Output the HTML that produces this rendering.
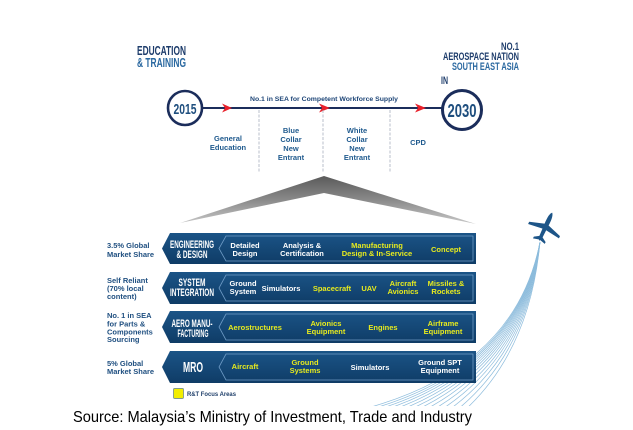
<!DOCTYPE html>
<html><head><meta charset="utf-8"><style>
html,body{margin:0;padding:0;background:#fff;}
svg{display:block;}
.b{font-family:"Liberation Sans",sans-serif;font-weight:bold;}
.c{font-family:"Liberation Sans Narrow","Liberation Sans",sans-serif;font-weight:bold;}
</style></head><body>
<svg width="633" height="430" viewBox="0 0 633 430" xmlns="http://www.w3.org/2000/svg">
<defs>
<linearGradient id="band" x1="0" y1="0" x2="0" y2="1">
<stop offset="0" stop-color="#1b5487"/><stop offset="1" stop-color="#0f3c66"/>
</linearGradient>
<linearGradient id="fun" x1="0" y1="176" x2="0" y2="224" gradientUnits="userSpaceOnUse">
<stop offset="0" stop-color="#5a5a5a"/><stop offset="0.5" stop-color="#8a8a8a"/><stop offset="1" stop-color="#c8c8c8"/>
</linearGradient>
<clipPath id="tc"><rect x="300" y="235" width="300" height="171"/></clipPath>
</defs>

<!-- Titles -->
<text class="c" x="137" y="55" font-size="13" fill="#1d3c6b" textLength="49" lengthAdjust="spacingAndGlyphs">EDUCATION</text>
<text class="c" x="137" y="67" font-size="13" fill="#2a68a0" textLength="49" lengthAdjust="spacingAndGlyphs">&amp; TRAINING</text>

<text class="c" x="519" y="50" font-size="11" fill="#1d3c6b" text-anchor="end" textLength="18" lengthAdjust="spacingAndGlyphs">NO.1</text>
<text class="c" x="519" y="60" font-size="11" fill="#1d3c6b" text-anchor="end" textLength="76" lengthAdjust="spacingAndGlyphs">AEROSPACE NATION</text>
<text class="c" x="519" y="70" font-size="11" fill="#2a68a0" text-anchor="end" textLength="67" lengthAdjust="spacingAndGlyphs">SOUTH EAST ASIA</text>
<text class="c" x="441" y="84" font-size="11" fill="#1d3c6b" textLength="7" lengthAdjust="spacingAndGlyphs">IN</text>

<!-- Timeline -->
<line x1="202" y1="108" x2="442" y2="108" stroke="#1b2d5b" stroke-width="2"/>
<g fill="#e8202a">
<polygon points="222,103.5 232,108 222,112.5 225,108"/>
<polygon points="319,103.5 330,108 319,112.5 322,108"/>
<polygon points="415,103.5 426,108 415,112.5 418,108"/>
</g>
<g stroke="#a8b0bf" stroke-width="0.8" stroke-dasharray="3,1.5">
<line x1="259" y1="110" x2="259" y2="173"/>
<line x1="323" y1="110" x2="323" y2="173"/>
<line x1="390" y1="110" x2="390" y2="173"/>
</g>
<circle cx="185" cy="108" r="17" fill="#fff" stroke="#1b2d5b" stroke-width="2.6"/>
<text class="c" x="185" y="114" font-size="15" fill="#1e4e7e" text-anchor="middle" textLength="23" lengthAdjust="spacingAndGlyphs">2015</text>
<circle cx="462" cy="110" r="19.5" fill="#fff" stroke="#1b2d5b" stroke-width="3"/>
<text class="c" x="462" y="117" font-size="18" fill="#1e4e7e" text-anchor="middle" textLength="29" lengthAdjust="spacingAndGlyphs">2030</text>

<text class="b" x="324" y="101" font-size="6.5" fill="#1d4577" text-anchor="middle" textLength="148" lengthAdjust="spacingAndGlyphs">No.1 in SEA for Competent Workforce Supply</text>

<g class="b" font-size="7.5" fill="#1f5a8e" text-anchor="middle">
<text x="228" y="141">General</text>
<text x="228" y="150">Education</text>
<text x="291" y="133">Blue</text>
<text x="291" y="142">Collar</text>
<text x="291" y="151">New</text>
<text x="291" y="160">Entrant</text>
<text x="357" y="133">White</text>
<text x="357" y="142">Collar</text>
<text x="357" y="151">New</text>
<text x="357" y="160">Entrant</text>
<text x="418" y="145">CPD</text>
</g>

<!-- Funnel -->
<path d="M180,223 L324,176 L476,224 L324,193 Z" fill="url(#fun)"/>

<!-- Trail -->
<g clip-path="url(#tc)" fill="none" stroke="#8dbcdc" stroke-width="0.7">
<path d="M540,242 Q515,370 360,410"/>
<path d="M540,242 Q516.2,368.5 368.1,410"/>
<path d="M540,242 Q517.3,366.9 376.2,410"/>
<path d="M540,242 Q518.5,365.4 384.2,410"/>
<path d="M540,242 Q519.6,363.8 392.3,410"/>
<path d="M540,242 Q520.8,362.3 400.4,410"/>
<path d="M540,242 Q521.9,360.8 408.5,410"/>
<path d="M540,242 Q523.1,359.2 416.5,410"/>
<path d="M540,242 Q524.2,357.7 424.6,410"/>
<path d="M540,242 Q525.4,356.2 432.7,410"/>
<path d="M540,242 Q526.5,354.6 440.8,410"/>
<path d="M540,242 Q527.7,353.1 448.8,410"/>
<path d="M540,242 Q528.8,351.5 456.9,410"/>
<path d="M540,242 Q530,350 465,410"/>
</g>

<!-- Plane -->
<g transform="translate(545,228) rotate(25)" fill="#1d5588">
<path d="M0,-17 C2,-15 2.3,-11 2.3,-6 L1.7,11 L0,14 L-1.7,11 L-2.3,-6 C-2.3,-11 -2,-15 0,-17Z"/>
<polygon points="-1.5,-4 -17,1 -17,3.5 -1.5,1.5 1.5,1.5 17,3.5 17,1 1.5,-4"/>
<polygon points="-1,9 -6.5,12.5 -6.5,14.5 -1,13 1,13 6.5,14.5 6.5,12.5 1,9"/>
</g>

<!-- Bands -->
<g>
<path d="M170,233 L476,233 L476,264 L170,264 L162,248.5 Z" fill="url(#band)"/>
<path d="M226,236 L473,236 L473,261 L226,261 L219,248.5 Z" fill="none" stroke="#6f9cc6" stroke-width="0.8"/>
<path d="M170,272 L476,272 L476,304 L170,304 L162,288 Z" fill="url(#band)"/>
<path d="M226,275 L473,275 L473,301 L226,301 L219,288 Z" fill="none" stroke="#6f9cc6" stroke-width="0.8"/>
<path d="M170,311 L476,311 L476,343 L170,343 L162,327 Z" fill="url(#band)"/>
<path d="M226,314 L473,314 L473,340 L226,340 L219,327 Z" fill="none" stroke="#6f9cc6" stroke-width="0.8"/>
<path d="M170,351 L476,351 L476,383 L170,383 L162,367 Z" fill="url(#band)"/>
<path d="M226,354 L473,354 L473,380 L226,380 L219,367 Z" fill="none" stroke="#6f9cc6" stroke-width="0.8"/>
</g>

<!-- Band headers -->
<g class="c" fill="#fff" text-anchor="middle">
<text x="192" y="248" font-size="11" textLength="44" lengthAdjust="spacingAndGlyphs">ENGINEERING</text>
<text x="192" y="258" font-size="11" textLength="31" lengthAdjust="spacingAndGlyphs">&amp; DESIGN</text>
<text x="192" y="286" font-size="11" textLength="27" lengthAdjust="spacingAndGlyphs">SYSTEM</text>
<text x="192" y="296" font-size="11" textLength="44" lengthAdjust="spacingAndGlyphs">INTEGRATION</text>
<text x="192" y="327" font-size="11" textLength="41" lengthAdjust="spacingAndGlyphs">AERO MANU-</text>
<text x="193" y="337" font-size="11" textLength="31" lengthAdjust="spacingAndGlyphs">FACTURING</text>
<text x="193" y="372" font-size="15" textLength="20" lengthAdjust="spacingAndGlyphs">MRO</text>
</g>

<!-- Band items -->
<g class="b" font-size="7.5" text-anchor="middle">
<g fill="#fff">
<text x="245" y="248">Detailed</text><text x="245" y="256">Design</text>
<text x="302" y="248">Analysis &amp;</text><text x="302" y="256">Certification</text>
<text x="243" y="286">Ground</text><text x="243" y="294">System</text>
<text x="281" y="291">Simulators</text>
<text x="370" y="370">Simulators</text>
<text x="440" y="365">Ground SPT</text><text x="440" y="373">Equipment</text>
</g>
<g fill="#e6ea1e">
<text x="377" y="248">Manufacturing</text><text x="377" y="256">Design &amp; In-Service</text>
<text x="446" y="252">Concept</text>
<text x="332" y="291">Spacecraft</text>
<text x="369" y="291">UAV</text>
<text x="403" y="286">Aircraft</text><text x="403" y="294">Avionics</text>
<text x="446" y="286">Missiles &amp;</text><text x="446" y="294">Rockets</text>
<text x="255" y="330">Aerostructures</text>
<text x="326" y="326">Avionics</text><text x="326" y="334">Equipment</text>
<text x="383" y="330">Engines</text>
<text x="443" y="326">Airframe</text><text x="443" y="334">Equipment</text>
<text x="245" y="369">Aircraft</text>
<text x="305" y="365">Ground</text><text x="305" y="373">Systems</text>
</g>
</g>

<!-- Left labels -->
<g class="b" font-size="7.5" fill="#1f4f80">
<text x="107" y="248">3.5% Global</text>
<text x="107" y="257">Market Share</text>
<text x="107" y="283">Self Reliant</text>
<text x="107" y="291">(70% local</text>
<text x="107" y="299">content)</text>
<text x="107" y="318">No. 1 in SEA</text>
<text x="107" y="326.5">for Parts &amp;</text>
<text x="107" y="334.5">Components</text>
<text x="107" y="342">Sourcing</text>
<text x="107" y="366">5% Global</text>
<text x="107" y="374">Market Share</text>
</g>

<!-- Legend -->
<rect x="173.5" y="388.5" width="10" height="10" rx="1.2" fill="#f2ee00" stroke="#7f9a8c" stroke-width="0.9"/>
<text class="b" x="187" y="396" font-size="6" fill="#1f3f6a" textLength="49" lengthAdjust="spacingAndGlyphs">R&amp;T Focus Areas</text>

<!-- Source -->
<text x="73" y="422" font-family="Liberation Sans, sans-serif" font-size="16" fill="#000" textLength="399" lengthAdjust="spacingAndGlyphs">Source: Malaysia’s Ministry of Investment, Trade and Industry</text>
</svg>
</body></html>
